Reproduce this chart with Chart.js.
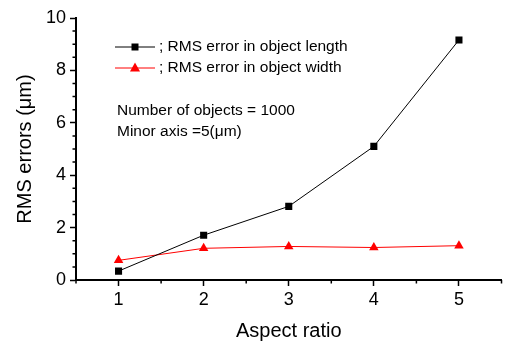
<!DOCTYPE html>
<html>
<head>
<meta charset="utf-8">
<script src="https://cdn.jsdelivr.net/npm/chart.js@4"></script>
<style>
  html, body { margin: 0; padding: 0; background: #fff; }
  #wrap { width: 507px; height: 343px; }
</style>
</head>
<body>
<div id="wrap"><canvas id="myChart"></canvas></div>
<script>
var aspect = [1, 2, 3, 4, 5];
var lengthErr = [0.34, 1.71, 2.81, 5.10, 9.16];
var widthErr = [0.75, 1.21, 1.28, 1.24, 1.31];
var xTicks = [1, 2, 3, 4, 5];
var yTicks = [0, 2, 4, 6, 8, 10];
var notes = ['Number of objects = 1000', 'Minor axis =5(\u03bcm)'];

var fam = '"Liberation Sans", Arial, sans-serif';

function pts(ys) {
  return aspect.map(function (x, i) { return { x: x, y: ys[i] }; });
}

// legend, notes and minor ticks drawn on top of the plot
var extras = {
  id: 'extras',
  afterDraw: function (chart) {
    var c = chart.ctx;
    var xs = chart.scales.x, ys = chart.scales.y;
    var area = chart.chartArea;
    c.save();
    c.strokeStyle = '#000';
    c.lineWidth = 1.5;
    c.beginPath();
    for (var v = 0.5; v <= 5.5; v += 1) {
      var px = xs.getPixelForValue(v);
      c.moveTo(px, area.bottom); c.lineTo(px, area.bottom + 3.5);
    }
    for (var w = 0.5; w < 10; w += 0.5) {
      if (w % 2 === 0) continue;
      var py = ys.getPixelForValue(w);
      c.moveTo(area.left, py); c.lineTo(area.left - 3.5, py);
    }
    c.stroke();

    c.font = '15.5px ' + fam;
    c.textBaseline = 'middle';
    c.fillStyle = '#000';
    chart.data.datasets.forEach(function (ds, i) {
      var y = 47 + i * 21;
      c.strokeStyle = ds.borderColor;
      c.lineWidth = 1;
      c.beginPath(); c.moveTo(115, y); c.lineTo(155, y); c.stroke();
      c.fillStyle = ds.borderColor;
      c.beginPath();
      if (ds.pointStyle === 'rect') {
        c.rect(131.5, y - 3.5, 7, 7);
      } else {
        c.moveTo(135, y - 5.5); c.lineTo(140, y + 3.5); c.lineTo(130, y + 3.5); c.closePath();
      }
      c.fill();
      c.fillStyle = '#000';
      c.fillText(ds.label, 159, y);
    });
    notes.forEach(function (t, i) {
      c.fillText(t, 117, 111 + i * 21);
    });
    c.restore();
  }
};

var ctx = document.getElementById('myChart');
var myChart = new Chart(ctx, {
  type: 'line',
  data: {
    datasets: [{
      label: '; RMS error in object length',
      data: pts(lengthErr),
      borderColor: '#000',
      backgroundColor: '#000',
      borderWidth: 1,
      pointStyle: 'rect',
      pointRadius: 5,
      pointBorderWidth: 0
    }, {
      label: '; RMS error in object width',
      data: pts(widthErr),
      borderColor: '#ff0000',
      backgroundColor: '#ff0000',
      borderWidth: 1,
      pointStyle: 'triangle',
      pointRadius: 5.5,
      pointBorderWidth: 0
    }]
  },
  options: {
    responsive: true,
    maintainAspectRatio: false,
    animation: false,
    layout: { padding: { top: 18, right: 1, bottom: 0, left: 0 } },
    plugins: { legend: { display: false }, tooltip: { enabled: false } },
    scales: {
      x: {
        type: 'linear',
        min: 0.5,
        max: 5.5,
        afterBuildTicks: function (s) { s.ticks = xTicks.map(function (v) { return { value: v }; }); },
        afterFit: function (s) { s.height = 63; },
        grid: { drawOnChartArea: false, tickLength: 6, tickWidth: 1.5, tickColor: '#000' },
        border: { color: '#000', width: 2 },
        ticks: { color: '#000', padding: 3, font: { family: fam, size: 18 } },
        title: { display: true, text: 'Aspect ratio', color: '#000', padding: { top: 6, bottom: 0 }, font: { family: fam, size: 20 } }
      },
      y: {
        min: 0,
        max: 10,
        afterBuildTicks: function (s) { s.ticks = yTicks.map(function (v) { return { value: v }; }); },
        afterFit: function (s) { s.width = 76; },
        grid: { drawOnChartArea: false, tickLength: 6, tickWidth: 1.5, tickColor: '#000' },
        border: { color: '#000', width: 2 },
        ticks: { color: '#000', padding: 4, font: { family: fam, size: 18 } },
        title: { display: true, text: 'RMS errors (\u03bcm)', color: '#000', padding: { top: 13, bottom: 0 }, font: { family: fam, size: 20 } }
      }
    }
  },
  plugins: [extras]
});
</script>
</body>
</html>
